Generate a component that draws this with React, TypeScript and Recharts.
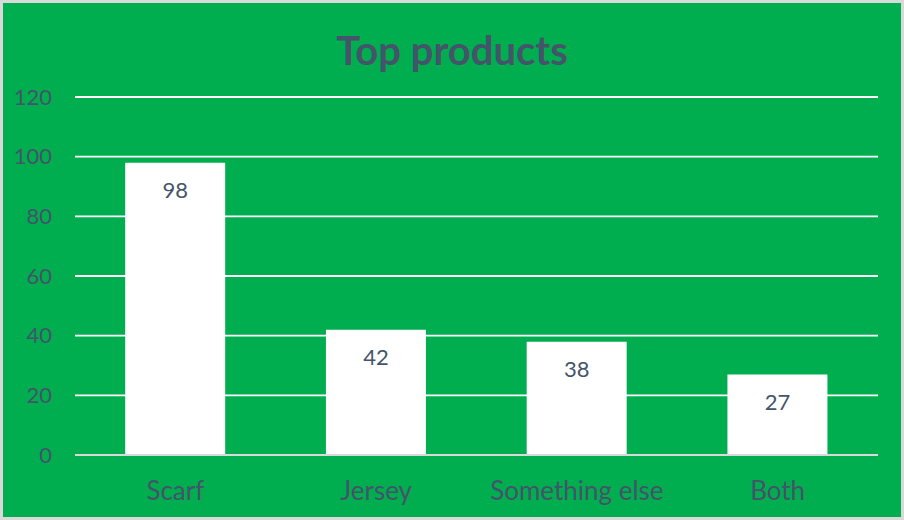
import { BarChart, Bar, XAxis, YAxis, CartesianGrid, LabelList } from 'recharts';

// data
const products = ['Scarf', 'Jersey', 'Something else', 'Both'];
const counts = [98, 42, 38, 27];
const yTicks = [0, 20, 40, 60, 80, 100, 120];

const data = products.map((name, i) => ({ name, count: counts[i] }));

const textColor = '#44546A';
const font = 'Lato, "Open Sans", sans-serif';

export default function App() {
  return (
    <div
      style={{
        position: 'fixed',
        left: 0,
        top: 0,
        width: 904,
        height: 520,
        background: '#00AE4F',
        border: '3px solid #D9D9D9',
        boxSizing: 'border-box',
        fontFamily: font,
      }}
    >
      <div
        style={{
          position: 'absolute',
          left: 0,
          right: 0,
          top: 24,
          textAlign: 'center',
          fontSize: 40,
          fontWeight: 700,
          color: textColor,
          lineHeight: '46px',
        }}
      >
        Top products
      </div>
      <div style={{ position: 'absolute', left: -3, top: -3 }}>
        <BarChart
          width={904}
          height={520}
          data={data}
          margin={{ top: 97, right: 26, bottom: 0, left: 0 }}
          barCategoryGap="25%"
        >
          <CartesianGrid vertical={false} stroke="#FFFFFF" strokeWidth={1.8} />
          <XAxis
            dataKey="name"
            height={65}
            axisLine={{ stroke: '#D9D9D9', strokeWidth: 1.8 }}
            tickLine={false}
            tickMargin={27}
            tickSize={0}
            tick={{ fill: textColor, fontSize: 26, fontFamily: font }}
          />
          <YAxis
            width={75}
            domain={[0, 120]}
            ticks={yTicks}
            axisLine={false}
            tickLine={false}
            tickSize={0}
            tickMargin={23}
            tick={{ fill: textColor, fontSize: 22, fontFamily: font }}
          />
          <Bar dataKey="count" fill="#FFFFFF" isAnimationActive={false}>
            <LabelList
              dataKey="count"
              position="insideTop"
              offset={20}
              fill={textColor}
              fontSize={22}
              fontFamily={font}
            />
          </Bar>
        </BarChart>
      </div>
    </div>
  );
}
